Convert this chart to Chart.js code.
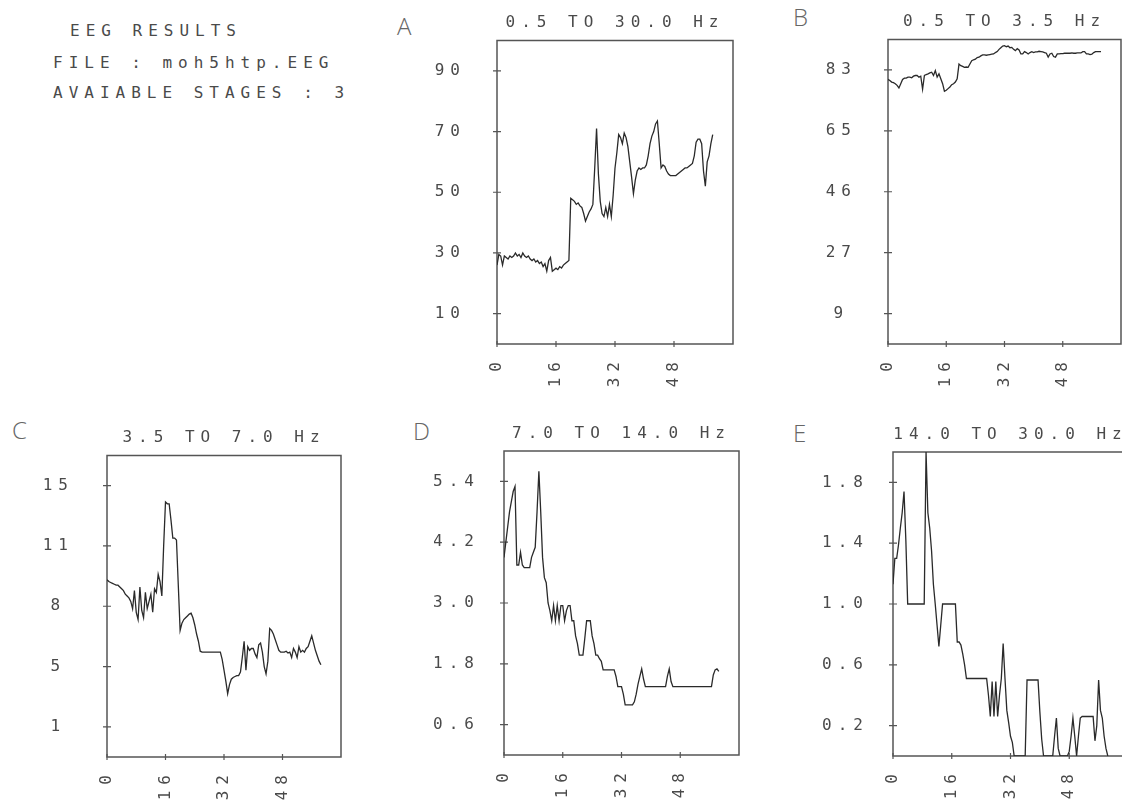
<!DOCTYPE html>
<html>
<head>
<meta charset="utf-8">
<script src="https://cdn.jsdelivr.net/npm/chart.js@4.4.0/dist/chart.umd.min.js"></script>
<style>
  body { margin: 0; width: 1122px; height: 801px; overflow: hidden; background: #fff; position: relative; }
  .info { position: absolute; font-family: 'DejaVu Sans Mono', monospace; font-size: 16px; line-height: 16px; letter-spacing: 6px; white-space: pre; color: #4a4a4a; }
  .tag { position: absolute; font-family: 'Open Sans', sans-serif; font-weight: 300; font-size: 24px; line-height: 24px; color: #666; }
  canvas { position: absolute; display: block; }
</style>
</head>
<body>
<div class="info" style="left:70px; top:23px;">EEG RESULTS</div>
<div class="info" style="left:53px; top:55px;">FILE : moh5htp.EEG</div>
<div class="info" style="left:53px; top:85px;">AVAIABLE STAGES : 3</div>

<div class="tag" style="left:397px; top:14px;">A</div>
<div class="tag" style="left:793px; top:5px;">B</div>
<div class="tag" style="left:12px; top:418px;">C</div>
<div class="tag" style="left:413px; top:419px;">D</div>
<div class="tag" style="left:793px; top:421px;">E</div>

<canvas id="panelA" width="312" height="399" style="left:427px; top:0px;"></canvas>
<canvas id="panelB" width="309" height="400" style="left:818px; top:-1px;"></canvas>
<canvas id="panelC" width="310" height="399" style="left:37px; top:413px;"></canvas>
<canvas id="panelD" width="311" height="398" style="left:434px; top:412px;"></canvas>
<canvas id="panelE" width="311" height="398" style="left:823px; top:413px;"></canvas>

<script>
// epochs, half a unit apart
const epochs = Array.from({ length: 118 }, (_, i) => i / 2);
const xTicks = [0, 16, 32, 48];
const tickSpots = [0.1, 0.3, 0.5, 0.7, 0.9];

// A : 0.5 TO 30.0 Hz
const aTitle = '0.5 TO 30.0 Hz';
const aTop = 100;
const aLabels = ['10', '30', '50', '70', '90'];
const aValues = [
  26, 29.5, 29, 26, 29, 28.5, 28, 29, 28.5, 29,
  30, 29, 29.5, 28.5, 30, 29, 28.5, 29, 28, 27.5,
  28, 27, 27.5, 26.5, 27, 25.5, 26.5, 24, 27.5, 28.5,
  24, 24.5, 25, 24.5, 25.5, 25, 26, 26.5, 27, 27.5,
  48, 47.5, 47, 46, 46.5, 45.5, 45, 43, 40.5, 42,
  43.5, 44.5, 46, 58, 71, 56, 47, 43, 42, 45,
  42, 46, 42, 49, 58, 63, 69, 68, 66, 69.5,
  68, 65, 60, 55, 49.5, 54, 57, 58, 57.5, 58,
  58, 59, 62, 66, 68.5, 70, 72.5, 73.5, 66, 58,
  59, 58.5, 57, 56, 55.5, 55.5, 55.5, 55.5, 56, 56.5,
  57, 57.5, 58, 58, 58.5, 59, 59.5, 62, 66.5, 67.5,
  67.5, 66, 57, 52, 60, 62, 66, 69
];

// B : 0.5 TO 3.5 Hz
const bTitle = '0.5 TO 3.5 Hz';
const bTop = 93;
const bLabels = ['9', '27', '46', '65', '83'];
const bValues = [
  80.8, 80.5, 80, 79.8, 79.5, 79, 78.2, 79.5, 80.8, 81.2,
  81.2, 81.5, 81.5, 81.3, 81.8, 82, 82, 81.5, 81.8, 77.8,
  82, 82.3, 82.5, 82.8, 83, 82, 83.5, 81.5, 82.5, 81,
  79.5, 77.2, 77.5, 78, 78.5, 79.2, 79.5, 80, 81, 85.5,
  85, 84.8, 84.5, 84.6, 84.5, 85.5, 86.5, 86.8, 87, 87.5,
  87.6, 88, 88.3, 88.3, 88.2, 88.3, 88.4, 88.5, 88.6, 89,
  89.3, 90, 90.5, 91, 91.1, 90.8, 91, 90.5, 90.6, 90,
  89.6, 90.2, 89.8, 88.6, 88.6, 89.3, 89, 88.6, 89, 89.3,
  89, 89.2, 89.2, 89.4, 89.3, 89.2, 89, 88.8, 87.6, 88.6,
  88.8, 87.8, 87.6, 88.6, 88.6, 88.7, 88.7, 88.8, 88.8, 88.8,
  88.8, 88.9, 88.8, 88.8, 88.9, 88.9, 88.9, 89.3, 89.3, 88.6,
  88.6, 88.4, 88.5, 89, 89.3, 89.3, 89.3, 89.3
];

// C : 3.5 TO 7.0 Hz
const cTitle = '3.5 TO 7.0 Hz';
const cTop = 16.67;
const cLabels = ['1', '5', '8', '11', '15'];
const cValues = [
  9.8, 9.7, 9.65, 9.6, 9.55, 9.5, 9.5, 9.4, 9.3, 9.2,
  9.0, 8.9, 8.8, 8.6, 8.2, 9.2, 8.0, 7.6, 9.4, 8.1,
  7.7, 9.1, 8.2, 8.6, 9.0, 8.0, 9.3, 9.1, 10.1, 9.7,
  8.9, 11.7, 14.1, 14.0, 14.0, 13.1, 12.1, 12.1, 12.0, 9.5,
  7.0, 7.4, 7.6, 7.7, 7.8, 7.9, 7.95, 7.7, 7.3, 6.8,
  6.4, 5.85, 5.8, 5.8, 5.8, 5.8, 5.8, 5.8, 5.8, 5.8,
  5.8, 5.8, 5.8, 5.4, 4.8, 4.2, 3.5, 4.0, 4.3, 4.4,
  4.45, 4.5, 4.5, 4.7, 5.5, 6.4, 4.8, 6.1, 5.9, 6.0,
  6.0, 5.7, 5.5, 6.2, 6.3, 5.8, 5.0, 4.6, 5.3, 7.1,
  7.0, 6.8, 6.5, 6.2, 5.9, 5.8, 5.8, 5.8, 5.85, 5.75,
  5.8, 5.5, 6.0, 5.8, 5.5, 6.1, 5.8, 5.9, 5.8, 6.0,
  6.1, 6.4, 6.7, 6.3, 5.9, 5.6, 5.3, 5.1
];

// D : 7.0 TO 14.0 Hz
const dTitle = '7.0 TO 14.0 Hz';
const dTop = 6.0;
const dLabels = ['0.6', '1.8', '3.0', '4.2', '5.4'];
const dValues = [
  3.9, 4.2, 4.5, 4.8, 5.0, 5.2, 5.3, 3.75, 3.75, 4.0,
  3.75, 3.7, 3.7, 3.7, 3.7, 3.9, 4.0, 4.1, 4.8, 5.6,
  4.8, 3.9, 3.5, 3.4, 3.0, 2.85, 2.65, 2.95, 2.65, 2.95,
  2.65, 2.95, 2.95, 2.65, 2.85, 2.95, 2.95, 2.65, 2.65, 2.35,
  2.2, 1.97, 1.97, 1.97, 2.3, 2.65, 2.65, 2.65, 2.35, 2.2,
  1.97, 1.97, 1.9, 1.85, 1.68, 1.68, 1.68, 1.68, 1.68, 1.68,
  1.68, 1.55, 1.35, 1.35, 1.35, 1.2, 0.99, 0.99, 0.99, 0.99,
  0.99, 1.05, 1.2, 1.4, 1.55, 1.7, 1.5, 1.35, 1.35, 1.35,
  1.35, 1.35, 1.35, 1.35, 1.35, 1.35, 1.35, 1.35, 1.35, 1.55,
  1.7, 1.45, 1.35, 1.35, 1.35, 1.35, 1.35, 1.35, 1.35, 1.35,
  1.35, 1.35, 1.35, 1.35, 1.35, 1.35, 1.35, 1.35, 1.35, 1.35,
  1.35, 1.35, 1.35, 1.35, 1.58, 1.68, 1.7, 1.65
];

// E : 14.0 TO 30.0 Hz
const eTitle = '14.0 TO 30.0 Hz';
const eTop = 2.0;
const eLabels = ['0.2', '0.6', '1.0', '1.4', '1.8'];
const eValues = [
  1.13, 1.3, 1.3, 1.39, 1.5, 1.6, 1.74, 1.42, 1.0, 1.0,
  1.0, 1.0, 1.0, 1.0, 1.0, 1.0, 1.0, 1.0, 2.0, 1.6,
  1.5, 1.35, 1.13, 1.0, 0.86, 0.72, 0.86, 1.0, 1.0, 1.0,
  1.0, 1.0, 1.0, 1.0, 1.0, 0.75, 0.75, 0.73, 0.67, 0.6,
  0.51, 0.51, 0.51, 0.51, 0.51, 0.51, 0.51, 0.51, 0.51, 0.51,
  0.51, 0.51, 0.4, 0.26, 0.49, 0.26, 0.49, 0.26, 0.4, 0.51,
  0.74, 0.51, 0.3, 0.22, 0.13, 0.09, 0, 0, 0, 0,
  0, 0, 0, 0.5, 0.5, 0.5, 0.5, 0.5, 0.5, 0.5,
  0.29, 0.11, 0, 0, 0, 0, 0, 0, 0.13, 0.25,
  0.05, 0, 0, 0, 0, 0, 0.03, 0.13, 0.25, 0.13,
  0, 0.13, 0.25, 0.26, 0.26, 0.26, 0.26, 0.26, 0.26, 0.26,
  0.1, 0.2, 0.5, 0.3, 0.25, 0.13, 0.05, 0
];

const ink = '#4a4a4a';
const monoFont = { family: "'DejaVu Sans Mono', monospace", size: 16, weight: 'normal', lineHeight: '19px' };

// the printout spaces its letters wide
const spacing = {
  id: 'spacing',
  beforeUpdate(chart) { chart.ctx.letterSpacing = '6px'; },
  beforeDraw(chart) { chart.ctx.letterSpacing = '6px'; }
};

// box round the plot, with small crossing ticks
const frame = {
  id: 'frame',
  beforeDatasetsDraw(chart) {
    const { ctx, chartArea: a, scales: { x, y } } = chart;
    ctx.save();
    ctx.strokeStyle = '#555';
    ctx.lineWidth = 1.5;
    ctx.strokeRect(a.left, a.top, a.right - a.left, a.bottom - a.top);
    ctx.lineWidth = 1.2;
    ctx.beginPath();
    y.ticks.forEach((t) => {
      const py = y.getPixelForValue(t.value);
      ctx.moveTo(a.left - 4, py);
      ctx.lineTo(a.left + 4, py);
    });
    x.ticks.forEach((t) => {
      const px = x.getPixelForValue(t.value);
      ctx.moveTo(px, a.bottom - 3);
      ctx.lineTo(px, a.bottom + 3);
    });
    ctx.stroke();
    ctx.restore();
  }
};

const drawPanel = (id, title, values, yTop, yLabels, labelPad) => {
  new Chart(document.getElementById(id), {
    type: 'line',
    data: {
      datasets: [{
        data: values.map((v, i) => ({ x: epochs[i], y: v })),
        borderColor: '#2a2a2a',
        borderWidth: 1.3,
        pointRadius: 0,
        tension: 0
      }]
    },
    options: {
      responsive: false,
      animation: false,
      events: [],
      layout: { padding: { right: 6 } },
      plugins: {
        legend: { display: false },
        tooltip: { enabled: false },
        title: {
          display: true,
          text: title,
          fullSize: false,
          color: ink,
          font: monoFont,
          padding: { top: 12, bottom: 8 }
        }
      },
      scales: {
        x: {
          type: 'linear',
          min: 0,
          max: 64,
          grid: { display: false, drawTicks: false },
          border: { display: false },
          afterBuildTicks: (s) => { s.ticks = xTicks.map((v) => ({ value: v })); },
          afterFit: (s) => { s.height = 55; },
          ticks: { minRotation: 90, maxRotation: 90, autoSkip: false, padding: 12, color: ink, font: monoFont }
        },
        y: {
          min: 0,
          max: yTop,
          grid: { display: false, drawTicks: false },
          border: { display: false },
          afterBuildTicks: (s) => { s.ticks = tickSpots.map((f) => ({ value: f * yTop })); },
          afterFit: (s) => { s.width = 70; },
          ticks: {
            crossAlign: 'center',
            autoSkip: false,
            padding: labelPad,
            color: ink,
            font: monoFont,
            callback: (v, i) => yLabels[i]
          }
        }
      }
    },
    plugins: [spacing, frame]
  });
};

drawPanel('panelA', aTitle, aValues, aTop, aLabels, 31);
drawPanel('panelB', bTitle, bValues, bTop, bLabels, 31);
drawPanel('panelC', cTitle, cValues, cTop, cLabels, 33);
drawPanel('panelD', dTitle, dValues, dTop, dLabels, 24);
drawPanel('panelE', eTitle, eValues, eTop, eLabels, 24);
</script>
</body>
</html>
